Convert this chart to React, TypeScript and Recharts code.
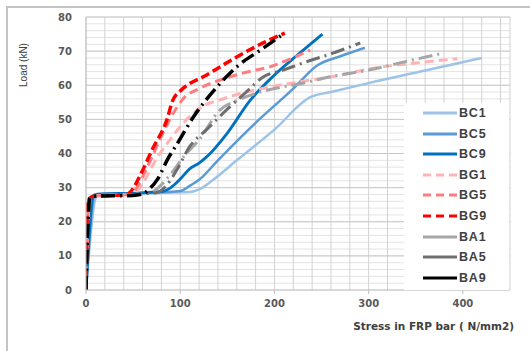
import React from 'react';
import { LineChart, Line, XAxis, YAxis, CartesianGrid, ReferenceLine, Label } from 'recharts';

// Stress in FRP bar (N/mm2) vs Load (kN) for each beam
const bc1: number[][] = [[0, 0], [11, 27.4], [15, 28], [60, 28.3], [110, 28.7], [120, 29.5], [135, 32.3], [160, 38], [200, 47], [238, 56.5], [260, 58], [301, 60.7], [360, 64.3], [420, 68]];
const bc5: number[][] = [[0, 0], [9, 27.5], [13, 28], [60, 28.4], [100, 29], [110, 30.5], [121, 32.5], [140, 38], [180, 49], [220, 59], [245, 65.7], [270, 68.5], [296, 71]];
const bc9: number[][] = [[0, 0], [8, 27.7], [12, 28.1], [50, 28.4], [80, 28.8], [90, 30], [100, 32.5], [110, 35.5], [120, 37.2], [128, 39], [150, 46], [174, 55.5], [200, 63], [225, 69], [251, 75]];
const bg1: number[][] = [[0, 0], [4, 27], [10, 27.6], [50, 28.2], [54, 29], [76, 39], [89, 44], [107, 50], [125, 54], [142, 55.7], [170, 58], [195, 59.5], [238, 61.5], [270, 63], [305, 65], [350, 66.5], [394, 67.8]];
const bg5: number[][] = [[0, 0], [3, 26.8], [9, 27.5], [46, 28], [50, 28.6], [65, 36], [80, 45], [90, 50.5], [103, 56], [120, 59], [142, 61.5], [170, 63.8], [195, 65.4], [215, 67.5], [238, 70.3]];
const bg9: number[][] = [[0, 0], [2, 26], [7, 27.4], [44, 28], [47, 28.7], [60, 35], [70, 41], [86, 50], [92, 55.5], [100, 58.3], [110, 60.5], [124, 62.4], [140, 65], [160, 68.3], [188, 72.4], [211, 75.3]];
const ba1: number[][] = [[0, 0], [5, 27], [10, 27.8], [50, 28], [70, 28.8], [90, 34], [105, 39.5], [120, 44], [142, 52.7], [160, 55.5], [185, 58], [230, 60.6], [260, 62.5], [301, 64.5], [340, 67], [376, 69.2]];
const ba5: number[][] = [[0, 0], [5, 27], [10, 27.7], [50, 28], [75, 28.5], [85, 30.5], [96, 35], [110, 42], [128, 47], [150, 53], [170, 58], [188, 62.4], [210, 64.5], [230, 66.5], [262, 69.4], [291, 72.4]];
const ba9: number[][] = [[0, 0], [4, 27], [8, 27.5], [50, 27.7], [62, 28.4], [66, 29.3], [76, 32.5], [87, 38.5], [96, 42.5], [114, 50.7], [139, 59.5], [160, 65.4], [185, 70.3], [211, 75.3]];

const seriesNames = ['BC1', 'BC5', 'BC9', 'BG1', 'BG5', 'BG9', 'BA1', 'BA5', 'BA9'];
const xTicks = [0, 20, 40, 60, 80, 100, 120, 140, 160, 180, 200, 220, 240, 260, 280, 300, 320, 340, 360, 380, 400, 420, 440];
const yTicks = [0, 2, 4, 6, 8, 10, 12, 14, 16, 18, 20, 22, 24, 26, 28, 30, 32, 34, 36, 38, 40, 42, 44, 46, 48, 50, 52, 54, 56, 58, 60, 62, 64, 66, 68, 70, 72, 74, 76, 78, 80];
const yMajor = [10, 20, 30, 40, 50, 60, 70, 80];
const xLabel = 'Stress in FRP bar ( N/mm2)';
const yLabel = 'Load (kN)';

const toPts = (a: number[][]) => a.map(([x, y]) => ({ x, y }));

const styles: Record<string, { color: string; width: number; dash?: string; legendDash?: string }> = {
  BC1: { color: '#9DC3E6', width: 2.5 },
  BC5: { color: '#5B9BD5', width: 2.5 },
  BC9: { color: '#0070C0', width: 2.8 },
  BG1: { color: '#FFB3B3', width: 3, dash: '9 5', legendDash: '8 5' },
  BG5: { color: '#FF7C80', width: 3, dash: '9 5', legendDash: '8 5' },
  BG9: { color: '#FF0000', width: 3.5, dash: '9 4', legendDash: '8 5' },
  BA1: { color: '#A6A6A6', width: 3, dash: '14 5 2 5' },
  BA5: { color: '#6E6E6E', width: 3, dash: '14 5 2 5' },
  BA9: { color: '#000000', width: 3.5, dash: '14 5 2 5' },
};

const allData: Record<string, number[][]> = { BC1: bc1, BC5: bc5, BC9: bc9, BG1: bg1, BG5: bg5, BG9: bg9, BA1: ba1, BA5: ba5, BA9: ba9 };

const tickFont = { fontFamily: 'DejaVu Sans', fontWeight: 'bold' as const, fontSize: 10, fill: '#595959' };

const XTick = (props: any) => {
  const { x, y, payload } = props;
  const v = payload.value;
  if (v % 100 !== 0) return <g />;
  return (
    <g>
      <line x1={x} x2={x} y1={y - 8} y2={y - 4} stroke="#bfbfbf" />
      <text x={x} y={y + 2} dy="0.71em" textAnchor="middle" {...tickFont}>{v}</text>
    </g>
  );
};

const LegendBox = () => (
  <div style={{ position: 'absolute', left: 404, top: 103, width: 105, height: 187, background: '#fff' }}>
    {seriesNames.map((n) => {
      const s = styles[n];
      return (
        <div key={n} style={{ position: 'relative', height: 20.6 }}>
          <svg width={36} height={20} style={{ position: 'absolute', left: 19, top: 0 }}>
            <line x1={0} x2={34} y1={10} y2={10} stroke={s.color} strokeWidth={3} strokeDasharray={s.legendDash} />
          </svg>
          <span style={{ position: 'absolute', left: 55, top: 3, fontFamily: 'Liberation Sans', fontWeight: 'bold', fontSize: 12.5, letterSpacing: 0.8, color: '#404040', lineHeight: '14px' }}>{n}</span>
        </div>
      );
    })}
  </div>
);

export default function App() {
  return (
    <div style={{ position: 'absolute', left: 0, top: 0, width: 530, height: 351, background: '#fff', overflow: 'hidden' }}>
      <div style={{ position: 'absolute', left: 6, top: 6, right: -2, bottom: -2, borderTop: '2px solid #c4c4c4', borderLeft: '2px solid #c4c4c4' }} />
      <div style={{ position: 'absolute', left: 0, top: 0 }}>
        <LineChart width={530} height={351} margin={{ top: 17, right: 20, bottom: 31, left: 0 }}>
          <CartesianGrid horizontal={true} vertical={false} stroke="#e4e4e4" strokeWidth={1} />
          <CartesianGrid horizontal={false} vertical={true} stroke="#d2d2d2" strokeWidth={1} />
          {yMajor.map((v) => (
            <ReferenceLine key={v} y={v} stroke="#c8c8c8" strokeWidth={1} />
          ))}
          <XAxis
            type="number"
            dataKey="x"
            domain={[0, 450]}
            ticks={xTicks}
            interval={0}
            allowDataOverflow
            height={30}
            axisLine={{ stroke: '#bfbfbf' }}
            tickLine={false}
            tickSize={5}
            tickMargin={3}
            tick={<XTick />}
          >
            <Label
              content={() => (
                <text x={514} y={330} textAnchor="end" fontFamily="DejaVu Sans" fontWeight="bold" fontSize={10.5} fill="#404040">{xLabel}</text>
              )}
            />
          </XAxis>
          <YAxis
            type="number"
            domain={[0, 80]}
            ticks={yTicks}
            interval={0}
            allowDataOverflow
            width={86}
            axisLine={{ stroke: '#bfbfbf' }}
            tickLine={false}
            tickMargin={8}
            tick={tickFont}
            tickFormatter={(v: number) => (v % 10 === 0 ? String(v) : '')}
          >
            <Label
              content={() => (
                <text x={27} y={65} transform="rotate(-90 27 65)" textAnchor="middle" fontFamily="Liberation Sans" fontSize={10} fill="#404040">{yLabel}</text>
              )}
            />
          </YAxis>
          {seriesNames.map((n) => (
            <Line
              key={n}
              name={n}
              data={toPts(allData[n])}
              dataKey="y"
              type="monotone"
              stroke={styles[n].color}
              strokeWidth={styles[n].width}
              strokeDasharray={styles[n].dash}
              dot={false}
              activeDot={false}
              isAnimationActive={false}
            />
          ))}
        </LineChart>
      </div>
      <LegendBox />
    </div>
  );
}
